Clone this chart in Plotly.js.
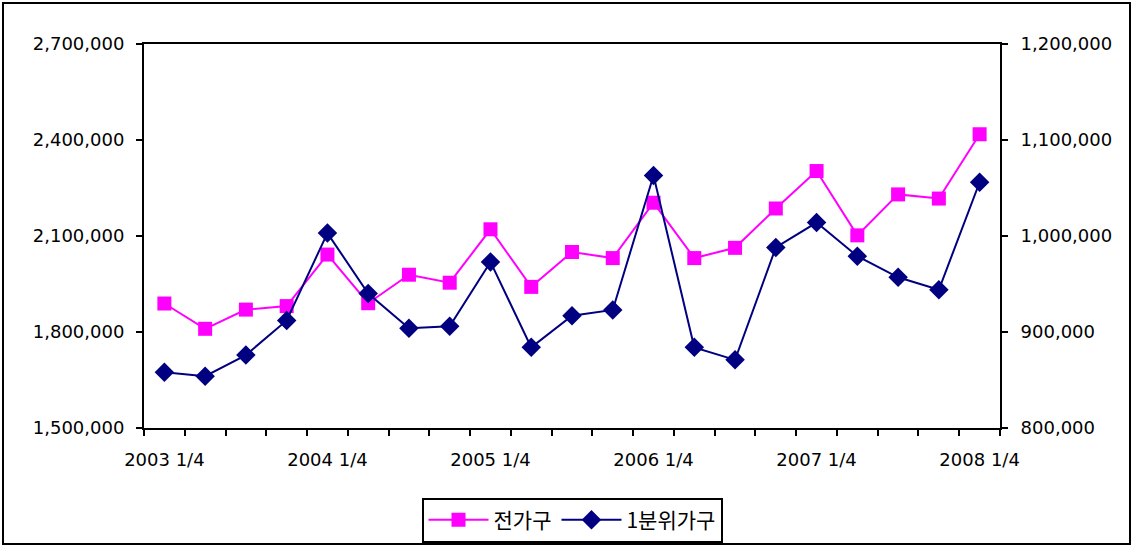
<!DOCTYPE html>
<html>
<head>
<meta charset="utf-8">
<script src="https://cdn.plot.ly/plotly-3.0.1.min.js"></script>
<style>
html,body{margin:0;padding:0;background:#fff;}
#chart{width:1133px;height:547px;}
</style>
</head>
<body>
<div id="chart"></div>
<script>
// Quarters 2003 1/4 .. 2008 1/4
const quarters = [
  "2003 1/4","2003 2/4","2003 3/4","2003 4/4",
  "2004 1/4","2004 2/4","2004 3/4","2004 4/4",
  "2005 1/4","2005 2/4","2005 3/4","2005 4/4",
  "2006 1/4","2006 2/4","2006 3/4","2006 4/4",
  "2007 1/4","2007 2/4","2007 3/4","2007 4/4",
  "2008 1/4"
];
// 전가구 (left axis)
const allHouseholds = [
  1889000, 1810000, 1870000, 1881000, 2042000, 1890000, 1979000, 1954000,
  2121000, 1941000, 2050000, 2031000, 2204000, 2031000, 2063000, 2186000,
  2303000, 2102000, 2230000, 2217000, 2418000
];
// 1분위가구 (right axis)
const firstQuintile = [
  858000, 854000, 876000, 912000, 1003000, 940000, 904000, 906000,
  973000, 884000, 917000, 923000, 1063000, 884000, 871000, 988000,
  1014000, 979000, 957000, 944000, 1056000
];
const tickLabels = ["2003 1/4","2004 1/4","2005 1/4","2006 1/4","2007 1/4","2008 1/4"];
const seriesNames = ["전가구","1분위가구"];

const xIdx = quarters.map((_, i) => i);
const tickIdx = tickLabels.map(t => quarters.indexOf(t));

const fontFam = "DejaVu Sans, Noto Sans CJK KR, sans-serif";
const tickFont = {family: fontFam, size: 18, color: "#000"};

const traces = [
  {
    x: xIdx, y: allHouseholds, name: seriesNames[0], type: "scatter", mode: "lines+markers",
    line: {color: "#FF00FF", width: 2},
    marker: {symbol: "square", size: 14, color: "#FF00FF"},
    yaxis: "y"
  },
  {
    x: xIdx, y: firstQuintile, name: seriesNames[1], type: "scatter", mode: "lines+markers",
    line: {color: "#000080", width: 2},
    marker: {symbol: "diamond", size: 15, color: "#000080"},
    yaxis: "y2"
  }
];

const layout = {
  width: 1133, height: 547,
  margin: {l: 144, r: 133, t: 44, b: 119, autoexpand: false},
  paper_bgcolor: "#fff", plot_bgcolor: "#fff",
  showlegend: true,
  font: {family: fontFam, size: 18, color: "#000"},
  xaxis: {
    range: [-0.5, 20.5],
    tickvals: tickIdx, ticktext: tickLabels,
    ticks: "", showgrid: false, zeroline: false,
    showline: true, linecolor: "#000", linewidth: 2, mirror: true,
    tickfont: tickFont, ticklabelstandoff: 14, automargin: false,
    minor: {tick0: 0.5, dtick: 1, ticks: "outside", ticklen: 6, tickwidth: 2, tickcolor: "#000", showgrid: false}
  },
  yaxis: {
    range: [1500000, 2700000], dtick: 300000, tick0: 1500000,
    tickformat: ",d", ticks: "outside", ticklen: 6, tickwidth: 2, tickcolor: "#000",
    showgrid: false, zeroline: false, automargin: false,
    showline: true, linecolor: "#000", linewidth: 2,
    tickfont: tickFont, ticklabelstandoff: 8
  },
  yaxis2: {
    range: [800000, 1200000], dtick: 100000, tick0: 800000,
    tickformat: ",d", ticks: "outside", ticklen: 6, tickwidth: 2, tickcolor: "#000",
    overlaying: "y", side: "right", automargin: false,
    showgrid: false, zeroline: false,
    showline: true, linecolor: "#000", linewidth: 2,
    tickfont: tickFont, ticklabelstandoff: 9
  },
  legend: {
    orientation: "h", x: 0.5, xanchor: "center", y: -0.24, yanchor: "middle",
    bordercolor: "#000", borderwidth: 2, bgcolor: "#fff", itemwidth: 60,
    font: {family: "Noto Sans CJK KR, sans-serif", size: 21, color: "#000"}
  },
  shapes: [{
    type: "rect", xref: "paper", yref: "paper",
    x0: (3 - 144) / 856, x1: (1130 - 144) / 856,
    y0: (428 - 544) / 384, y1: (428 - 3) / 384,
    line: {color: "#000", width: 2}, fillcolor: "rgba(0,0,0,0)", layer: "below"
  }]
};

Plotly.newPlot("chart", traces, layout, {displayModeBar: false, staticPlot: true});
</script>
</body>
</html>
